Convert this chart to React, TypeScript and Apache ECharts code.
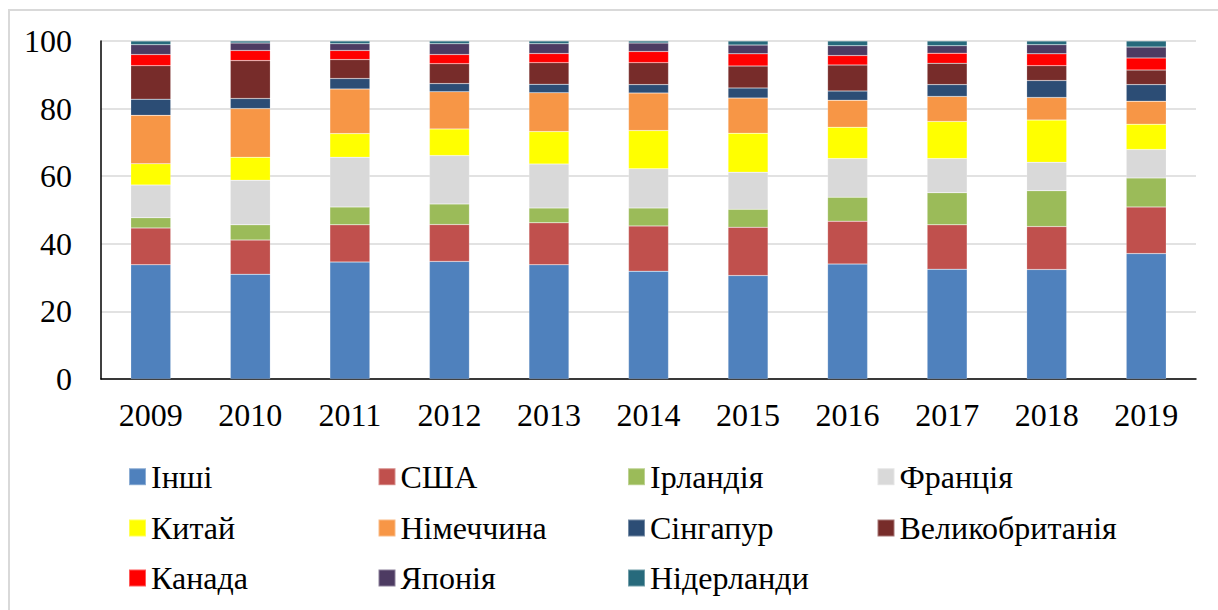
import React, { useEffect, useRef } from "react";
import * as echarts from "echarts";

const years = ["2009", "2010", "2011", "2012", "2013", "2014", "2015", "2016", "2017", "2018", "2019"];
const seriesNames = ["Інші", "США", "Ірландія", "Франція", "Китай", "Німеччина", "Сінгапур", "Великобританія", "Канада", "Японія", "Нідерланди"];
const colors = ["#4F81BD", "#C0504D", "#9BBB59", "#D9D9D9", "#FFFF00", "#F79646", "#2C4D75", "#772C2A", "#FF0000", "#4D3B62", "#276A7C"];

const others = [33.8, 31.0, 34.6, 34.8, 33.8, 31.9, 30.6, 34.0, 32.5, 32.4, 37.1];
const usa = [10.9, 10.1, 11.0, 10.9, 12.4, 13.4, 14.3, 12.7, 13.1, 12.7, 13.8];
const ireland = [3.0, 4.5, 5.3, 6.1, 4.4, 5.3, 5.3, 7.1, 9.5, 10.6, 8.6];
const france = [9.7, 13.2, 14.7, 14.3, 13.0, 11.6, 11.0, 11.4, 10.1, 8.4, 8.4];
const china = [6.3, 6.8, 7.0, 7.9, 9.6, 11.3, 11.5, 9.3, 11.0, 12.5, 7.5];
const germany = [14.3, 14.4, 13.2, 11.0, 11.5, 11.1, 10.4, 8.0, 7.4, 6.7, 6.8];
const singapore = [4.8, 3.0, 3.1, 2.4, 2.5, 2.5, 3.0, 2.7, 3.5, 5.0, 4.9];
const uk = [9.9, 11.2, 5.6, 5.9, 6.4, 6.5, 6.5, 7.7, 6.3, 4.4, 4.3];
const canada = [3.3, 3.0, 2.7, 2.7, 2.7, 3.3, 3.6, 2.8, 3.0, 3.5, 3.6];
const japan = [2.9, 2.2, 2.0, 3.2, 2.9, 2.5, 2.6, 2.9, 2.2, 2.7, 3.2];
const netherlands = [1.1, 0.6, 0.8, 0.8, 0.8, 0.6, 1.2, 1.4, 1.4, 1.1, 1.8];

const seriesData = [others, usa, ireland, france, china, germany, singapore, uk, canada, japan, netherlands];

const FONT = "Liberation Serif";

export default function App() {
  const ref = useRef<HTMLDivElement>(null);

  useEffect(() => {
    if (!ref.current) return;
    const chart = echarts.init(ref.current, null, { renderer: "svg" });

    const legendRowsY = [476.7, 528, 578];
    const legendColsX = [128, 377.5, 627, 876.5];
    const legends = seriesNames.map((name, i) => {
      const row = Math.floor(i / 4);
      const col = i % 4;
      return {
        show: true,
        data: [{ name, textStyle: { fontFamily: FONT, fontSize: 32, color: "#000" } }],
        left: legendColsX[col],
        top: legendRowsY[row] - 16,
        padding: 0,
        itemWidth: 17,
        itemHeight: 17,
        itemGap: 0,
        icon: "rect",
        selectedMode: false,
        textStyle: {
          fontFamily: FONT,
          fontSize: 32,
          color: "#000",
        },
      };
    });

    chart.setOption({
      animation: false,
      color: colors,
      textStyle: { fontFamily: FONT, fontSize: 32 },
      graphic: [
        {
          type: "rect",
          shape: { x: 9, y: 10, width: 1300, height: 700 },
          style: { fill: "none", stroke: "#D9D9D9", lineWidth: 2 },
          silent: true,
        },
      ],
      legend: legends,
      grid: { left: 101, right: 22, top: 41, bottom: 231, containLabel: false },
      xAxis: {
        type: "category",
        data: years,
        axisLine: { show: true, lineStyle: { color: "#000", width: 1.5 } },
        axisTick: { show: false },
        axisLabel: { fontFamily: FONT, fontSize: 32, color: "#000", margin: 20 },
      },
      yAxis: {
        type: "value",
        min: 0,
        max: 100,
        interval: 20,
        axisLine: { show: true, lineStyle: { color: "#000", width: 1.5 } },
        axisTick: { show: false },
        axisLabel: {
          fontFamily: FONT,
          fontSize: 32,
          color: "#000",
          margin: 29,
          formatter: (v: number) => String(v),
        },
        splitLine: { show: true, lineStyle: { color: "#D9D9D9", width: 1.5 } },
      },
      series: seriesNames.map((name, i) => ({
        name,
        type: "bar",
        stack: "total",
        barWidth: 40,
        data: seriesData[i],
        itemStyle: { color: colors[i], borderColor: "rgba(255,255,255,0.35)", borderWidth: 0.5 },
      })),
    });

    return () => chart.dispose();
  }, []);

  return (
    <div
      ref={ref}
      style={{ position: "fixed", left: 0, top: 0, width: 1218, height: 610, background: "#fff", fontFamily: FONT }}
    />
  );
}
